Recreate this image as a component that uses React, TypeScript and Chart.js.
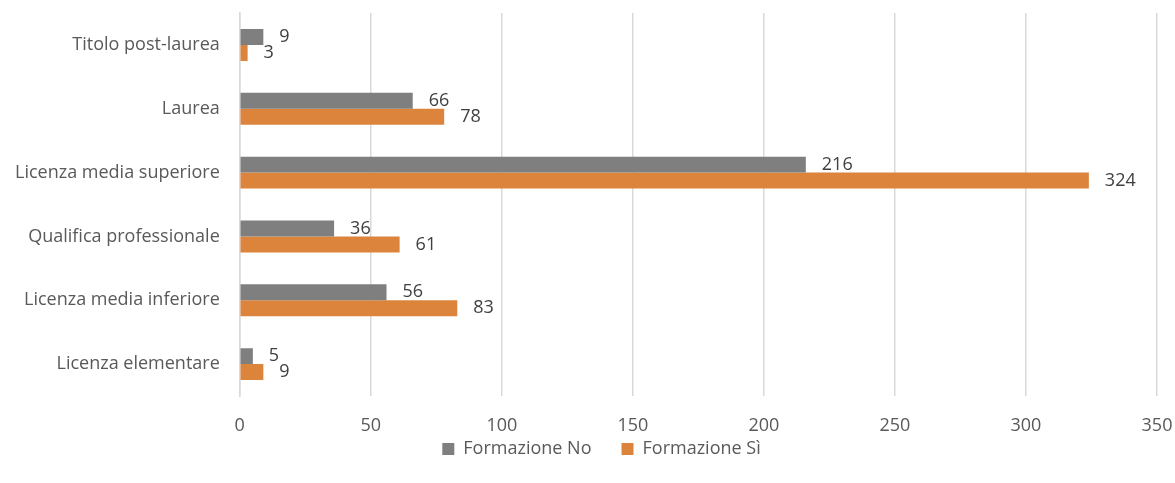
import React, { useEffect, useRef } from "react";
import { Chart, registerables } from "chart.js";

Chart.register(...registerables);

const categories = [
  "Titolo post-laurea",
  "Laurea",
  "Licenza media superiore",
  "Qualifica professionale",
  "Licenza media inferiore",
  "Licenza elementare",
];
const formazioneNo = [9, 66, 216, 36, 56, 5];
const formazioneSi = [3, 78, 324, 61, 83, 9];
const seriesNames = ["Formazione No", "Formazione Sì"];

const FONT = "'Open Sans', 'Liberation Sans', sans-serif";
const FS = 18;

const labelPlugin = {
  id: "barLabels",
  afterLayout(chart: any) {
    if (chart.legend) {
      chart.legend.left += 14;
      chart.legend.right += 14;
    }
  },
  afterDatasetsDraw(chart: any) {
    const ctx = chart.ctx;
    ctx.save();
    ctx.font = `${FS}px ${FONT}`;
    ctx.fillStyle = "#404040";
    ctx.textAlign = "left";
    ctx.textBaseline = "middle";
    chart.data.datasets.forEach((ds: any, di: number) => {
      const meta = chart.getDatasetMeta(di);
      meta.data.forEach((bar: any, i: number) => {
        ctx.fillText(String(ds.data[i]), bar.x + 16, bar.y);
      });
    });
    ctx.restore();
  },
};

export default function App() {
  const ref = useRef<HTMLCanvasElement>(null);
  useEffect(() => {
    const chart = new Chart(ref.current!, {
      type: "bar",
      data: {
        labels: categories,
        datasets: [
          {
            label: seriesNames[0],
            data: formazioneNo,
            backgroundColor: "#7F7F7F",
            categoryPercentage: 0.5,
            barPercentage: 1,
          },
          {
            label: seriesNames[1],
            data: formazioneSi,
            backgroundColor: "#DD843C",
            categoryPercentage: 0.5,
            barPercentage: 1,
          },
        ],
      },
      options: {
        indexAxis: "y",
        animation: false,
        responsive: true,
        maintainAspectRatio: false,
        layout: { padding: { left: 0, right: 0, top: 13, bottom: 15 } },
        scales: {
          x: {
            min: 0,
            max: 350,
            ticks: {
              stepSize: 50,
              color: "#595959",
              font: { family: FONT, size: FS, lineHeight: 1 },
              padding: 21,
            },
            grid: { color: "#D9D9D9", lineWidth: 1.5, drawTicks: false },
            border: { display: false },
            afterFit(scale: any) {
              scale.height = scale.height - 18;
              scale.paddingRight = 18;
            },
          },
          y: {
            ticks: { color: "#595959", font: { family: FONT, size: FS }, padding: 20 },
            grid: { display: false, drawTicks: false },
            border: { display: true, color: "#D9D9D9", width: 1.5 },
            afterFit(scale: any) {
              scale.paddingTop = 0;
              scale.paddingBottom = 0;
              scale.width = scale.width - 5;
            },
          },
        },
        plugins: {
          legend: {
            position: "bottom",
            labels: {
              color: "#595959",
              font: { family: FONT, size: FS, lineHeight: 1 },
              boxWidth: 12,
              boxHeight: 12,
              padding: 2,
              generateLabels(chart: any) {
                const items = Chart.defaults.plugins.legend.labels.generateLabels(chart);
                return items.map((it: any, i: number) =>
                  i < items.length - 1 ? { ...it, text: it.text + "      " } : it
                );
              },
            },
          },
          tooltip: { enabled: false },
        },
      },
      plugins: [labelPlugin],
    });
    return () => chart.destroy();
  }, []);
  return (
    <div style={{ position: "absolute", left: 0, top: 0, width: 1175, height: 483 }}>
      <canvas ref={ref} />
    </div>
  );
}
